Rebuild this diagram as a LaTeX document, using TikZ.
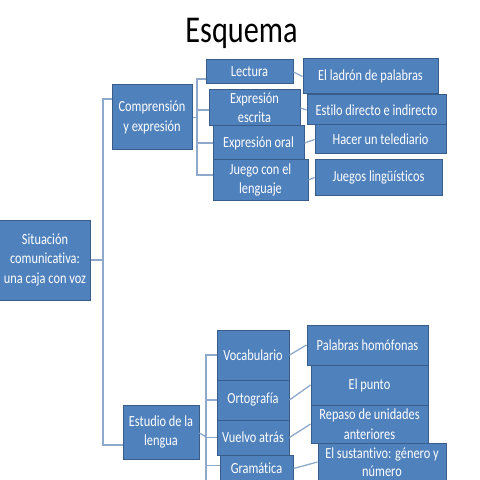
\documentclass[tikz,border=0pt]{standalone}
\usepackage{fontspec}
\setmainfont{Carlito}[FakeStretch=0.8, Ligatures=NoCommon]
\definecolor{boxfill}{HTML}{4F81BD}
\definecolor{boxline}{HTML}{385D8A}
\definecolor{conn}{HTML}{8EA9CC}
\tikzset{
  bx/.style={draw=boxline, line width=1bp, fill=boxfill, text=white, align=center,
    inner sep=0pt, font=\fontsize{15.5}{19.5}\selectfont},
  cn/.style={draw=conn, line width=1.3bp},
  sz/.style 2 args={minimum width=#1bp, minimum height=#2bp}
}
\begin{document}
\begin{tikzpicture}[x=1bp,y=-1bp]
\useasboundingbox[fill=white] (0,0) rectangle (480,480);
\node[anchor=base, font=\fontsize{38}{40}\selectfont] (title) at (241.5,43) {Esquema};

\coordinate (jr) at (103,260);
\coordinate (jc) at (197,117.5);
\coordinate (je) at (206,437);
\coordinate (jend) at (206,480);

% boxes
\node[bx, sz={90}{80}] (root) at (45,260) {Situación\\comunicativa:\\una caja con voz};
\node[bx, sz={80}{65}] (comp) at (152,117.5) {Comprensión\\y expresión};
\node[bx, sz={76}{54}] (estudio) at (161,432) {Estudio de la\\lengua};

\node[bx, sz={87}{24}] (lect) at (249.5,72) {Lectura};
\node[bx, sz={91}{36}] (escr) at (254.5,108) {Expresión\\escrita};
\node[bx, sz={91}{34}] (oral) at (258.5,143) {Expresión oral};
\node[bx, sz={95}{40}] (juego) at (260.5,180) {Juego con el\\lenguaje};

\node[bx, sz={135}{35}] (ladron) at (370.5,76.5) {El ladrón de palabras};
\node[bx, sz={139}{30}] (estilo) at (376.5,110) {Estilo directo e indirecto};
\node[bx, sz={131}{29}] (hacer) at (380.5,139.5) {Hacer un telediario};
\node[bx, sz={127}{35}] (juegos) at (378.5,177.5) {Juegos lingüísticos};

\node[bx, sz={72}{50}] (voc) at (253,355) {Vocabulario};
\node[bx, sz={72}{40}] (orto) at (253,400) {Ortografía};
\node[bx, sz={72}{35}] (vuelvo) at (253,437.5) {Vuelvo atrás};
\node[bx, sz={73}{27}] (gram) at (256.5,468.5) {Gramática};

\node[bx, sz={121}{40}] (homof) at (367.5,345) {Palabras homófonas};
\node[bx, sz={117}{40}] (punto) at (369.5,385) {El punto};
\node[bx, sz={117}{38}] (repaso) at (369.5,424) {Repaso de unidades\\anteriores};
\node[bx, sz={128}{38}, font=\fontsize{15.5}{18.5}\selectfont] (sust) at (382,462) {El sustantivo: género y\\número};

% connectors
\draw[cn] (root.east) -- (jr);
\draw[cn] (jr) |- ([yshift=18.5bp]comp.west);
\draw[cn] (jr) |- ([yshift=-13bp]estudio.west);

\draw[cn] (comp.east) -- (jc);
\draw[cn] (jc) |- ([yshift=-7bp]lect.west);
\draw[cn] (jc) |- ([yshift=-2bp]escr.west);
\draw[cn] (jc) |- (oral.west);
\draw[cn] (jc) |- ([yshift=5bp]juego.west);

\draw[cn] (lect.east) -- (ladron.west);
\draw[cn] (escr.east) -- (estilo.west);
\draw[cn] (oral.east) -- (hacer.west);
\draw[cn] (juego.east) -- (juegos.west);

\draw[cn] ([yshift=-1bp]estudio.east) -- (je);
\draw[cn] (je) |- (voc.west);
\draw[cn] (je) |- (orto.west);
\draw[cn] (je) |- (vuelvo.west);
\draw[cn] (je) |- ([yshift=3bp]gram.west);
\draw[cn] (je) -- (jend);

\draw[cn] (voc.east) -- (homof.west);
\draw[cn] (orto.east) -- (punto.west);
\draw[cn] (vuelvo.east) -- (repaso.west);
\draw[cn] (gram.east) -- (sust.west);
\end{tikzpicture}
\end{document}
